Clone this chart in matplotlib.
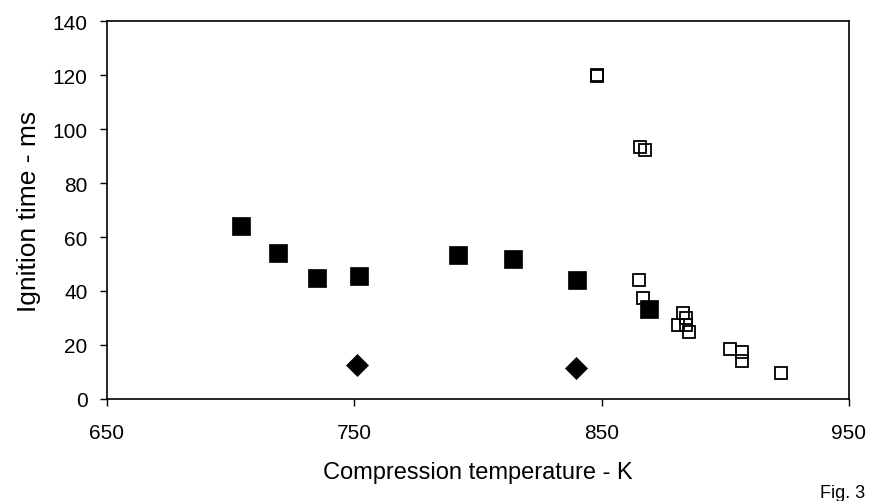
import matplotlib
matplotlib.use("Agg")
import matplotlib.pyplot as plt

plt.rcParams['font.family'] = ['Liberation Sans', 'DejaVu Sans']

# Filled squares series
filled_x = [704, 719, 735, 752, 792, 814, 840, 869]
filled_y = [64, 54, 45, 45.5, 53.5, 52, 44, 33.5]

# Diamonds series
diamond_x = [751, 839.5]
diamond_y = [12.7, 11.5]

# Open squares series
open_x = [848, 848.3, 865.4, 867.4, 865.1, 866.7, 881, 883, 884, 884, 885.4, 902, 906.7, 906.7, 922.7]
open_y = [120, 119.6, 93.5, 92.3, 44, 37.5, 27.4, 32, 30, 27.4, 25, 18.7, 17.5, 14.1, 9.6]

x_ticks = [650, 750, 850, 950]
y_ticks = [0, 20, 40, 60, 80, 100, 120, 140]

fig = plt.figure(figsize=(8.77, 5.02), dpi=100)
ax = fig.add_axes([107/877, 1 - 400/502, (849-107)/877, (400-22)/502])

ax.plot(filled_x, filled_y, linestyle='none', marker='s', markersize=13.5,
        markerfacecolor='black', markeredgecolor='black', markeredgewidth=0.5)
ax.plot(diamond_x, diamond_y, linestyle='none', marker='D', markersize=11,
        markerfacecolor='black', markeredgecolor='black', markeredgewidth=0.5)
ax.plot(open_x, open_y, linestyle='none', marker='s', markersize=8.3,
        markerfacecolor='none', markeredgecolor='black', markeredgewidth=1.3)

ax.set_xlim(650, 950)
ax.set_ylim(0, 140)
ax.set_xticks(x_ticks)
ax.set_yticks(y_ticks)
ax.tick_params(axis='both', direction='out', length=5, width=1, labelsize=15, colors='black')
ax.tick_params(axis='x', pad=12)
ax.tick_params(axis='y', pad=9)
for s in ax.spines.values():
    s.set_color('black')
    s.set_linewidth(1.2)

ax.set_xlabel('Compression temperature - K', fontsize=17, labelpad=14)
ax.set_ylabel('Ignition time - ms', fontsize=19, labelpad=8)

fig.text(820/877, 1 - 498/502, 'Fig. 3', fontsize=13, ha='left', va='baseline')

fig.savefig('out.png', dpi=100)
